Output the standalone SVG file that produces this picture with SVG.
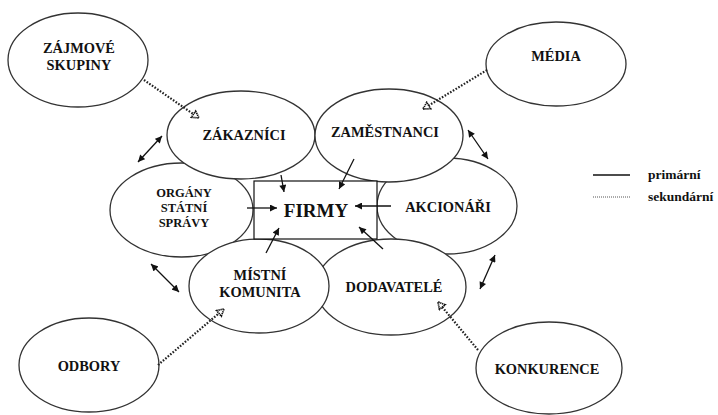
<svg xmlns="http://www.w3.org/2000/svg" width="718" height="415" viewBox="0 0 718 415">
<style>
.n ellipse{fill:#fff;stroke:#333;stroke-width:1.3}
text{font-family:"Liberation Serif","Times New Roman",serif;font-weight:bold;fill:#111;text-anchor:middle}
.t{font-size:14.4px}
.s{font-size:12.5px}
.p{stroke:#111;stroke-width:1.3;fill:none}
.d{stroke:#222;stroke-width:2.2;stroke-dasharray:1.6 1.6;fill:none}
</style>
<defs>
<marker id="ah" viewBox="0 0 10 10" refX="10" refY="5" markerWidth="8" markerHeight="7" markerUnits="userSpaceOnUse" orient="auto-start-reverse">
<path d="M0,0 L10,5 L0,10 z" fill="#111"/>
</marker>
<marker id="dh" viewBox="0 0 12 12" refX="10" refY="6" markerWidth="10" markerHeight="10" markerUnits="userSpaceOnUse" orient="auto">
<path d="M2,1.5 L10,6 L2,10.5 z" fill="#fff" stroke="#111" stroke-width="2" stroke-dasharray="1.6 0.8"/>
</marker>
</defs>
<rect width="718" height="415" fill="#fff"/>

<g id="zajmove" class="n"><ellipse cx="78" cy="60" rx="70" ry="47"/><text class="t" x="79" y="53">ZÁJMOVÉ</text><text class="t" x="79" y="70">SKUPINY</text></g>
<g id="media" class="n"><ellipse cx="556" cy="64" rx="70" ry="42"/><text class="t" x="556" y="61">MÉDIA</text></g>
<g id="odbory" class="n"><ellipse cx="89" cy="365" rx="70" ry="47"/><text class="t" x="89" y="371">ODBORY</text></g>
<g id="konkurence" class="n"><ellipse cx="549" cy="368" rx="73" ry="46"/><text class="t" x="547" y="374">KONKURENCE</text></g>
<g id="akcionari" class="n"><ellipse cx="447" cy="206" rx="70" ry="48"/><text class="t" x="448" y="212">AKCIONÁŘI</text></g>
<g id="dodavatele" class="n"><ellipse cx="391" cy="287" rx="75" ry="48"/><text class="t" x="394" y="292">DODAVATELÉ</text></g>
<g id="organy" class="n"><ellipse cx="181.5" cy="210" rx="71.5" ry="47"/><text class="s" x="184" y="197">ORGÁNY</text><text class="s" x="184" y="212">STÁTNÍ</text><text class="s" x="184" y="227">SPRÁVY</text></g>
<g id="mistni" class="n"><ellipse cx="259" cy="286" rx="70" ry="47"/><text class="t" x="260" y="280">MÍSTNÍ</text><text class="t" x="260" y="297">KOMUNITA</text></g>
<g id="zakaznici" class="n"><ellipse cx="241" cy="135" rx="74" ry="44"/><text class="t" x="244" y="140">ZÁKAZNÍCI</text></g>
<g id="zamestnanci" class="n"><ellipse cx="389" cy="135.5" rx="74" ry="46.5"/><text class="t" x="385" y="137">ZAMĚSTNANCI</text></g>
<g id="firmy"><rect x="254" y="181" width="123" height="58" fill="#fff" stroke="#111" stroke-width="1.2"/><text x="316" y="217" style="font-size:19px">FIRMY</text></g>

<g id="connectors">
<line class="p" x1="281" y1="175" x2="284" y2="192" marker-end="url(#ah)"/>
<line class="p" x1="354" y1="159" x2="339" y2="189" marker-end="url(#ah)"/>
<line class="p" x1="247" y1="208" x2="277" y2="208" marker-end="url(#ah)"/>
<line class="p" x1="391" y1="206" x2="355" y2="206" marker-end="url(#ah)"/>
<line class="p" x1="266" y1="253" x2="279" y2="228" marker-end="url(#ah)"/>
<line class="p" x1="383" y1="249" x2="359" y2="227" marker-end="url(#ah)"/>
<line class="p" x1="162" y1="136" x2="138" y2="162" marker-start="url(#ah)" marker-end="url(#ah)"/>
<line class="p" x1="468" y1="130" x2="488" y2="159" marker-start="url(#ah)" marker-end="url(#ah)"/>
<line class="p" x1="151" y1="264" x2="179" y2="292" marker-start="url(#ah)" marker-end="url(#ah)"/>
<line class="p" x1="495" y1="255" x2="480" y2="289" marker-start="url(#ah)" marker-end="url(#ah)"/>
<line class="d" x1="144" y1="80" x2="199" y2="118" marker-end="url(#dh)"/>
<line class="d" x1="487" y1="70" x2="423" y2="109" marker-end="url(#dh)"/>
<line class="d" x1="158" y1="365" x2="224" y2="309" marker-end="url(#dh)"/>
<line class="d" x1="478" y1="350" x2="438" y2="302" marker-end="url(#dh)"/>
</g>

<g id="legend">
<line x1="593" y1="175" x2="630" y2="175" stroke="#111" stroke-width="1.3"/>
<line x1="593" y1="197" x2="630" y2="197" stroke="#555" stroke-width="1" stroke-dasharray="1 1"/>
<text x="648" y="179" style="font-size:13.5px;text-anchor:start">primární</text>
<text x="648" y="201" style="font-size:13.5px;text-anchor:start">sekundární</text>
</g>
</svg>
